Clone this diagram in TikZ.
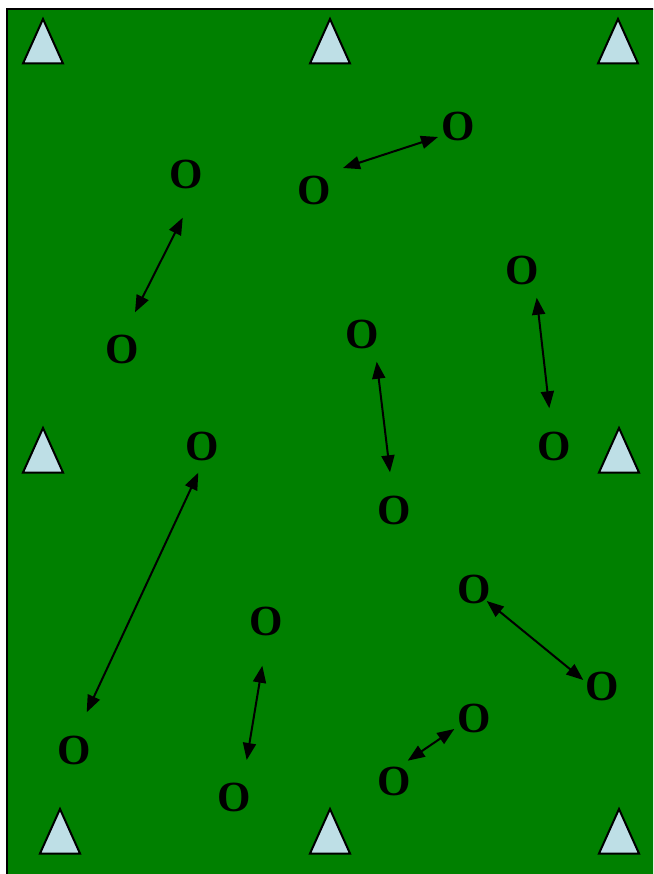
\documentclass[tikz,border=0pt]{standalone}
\usepackage{fontspec}
\setmainfont{Liberation Serif}
\usetikzlibrary{arrows.meta}
\definecolor{field}{RGB}{0,128,0}
\definecolor{cone}{RGB}{190,223,230}
\tikzset{
  player/.style={inner sep=0pt, outer sep=0pt, text=black, font=\bfseries\fontsize{43}{43}\selectfont},
  conebox/.style={draw=black, line width=2pt, fill=cone, line join=miter},
  pass/.style={draw=black, line width=2pt, {Triangle[length=17pt,width=13pt]}-{Triangle[length=17pt,width=13pt]}}
}
\begin{document}
\begin{tikzpicture}[x=1pt,y=-1pt]
\useasboundingbox (0,0) rectangle (653,874);
\clip (0,0) rectangle (653,874);
\fill[white] (0,0) rectangle (653,874);
\draw[fill=field, line width=2pt] (7,9) rectangle (670,890);
% cones
\foreach \n/\cx/\ty in {c1/43/19, c2/330/19, c3/618/19, c4/43/428, c5/619/428, c6/60/809, c7/330/809, c8/619/809}{
  \draw[conebox] (\cx,\ty) -- ++(20,44.5) -- ++(-40,0) -- cycle;
}
% players
\node[player] (o1) at (186.7,174) {O};
\node[player] (o2) at (314.5,190.5) {O};
\node[player] (o3) at (458.3,126) {O};
\node[player] (o4) at (522.5,270) {O};
\node[player] (o5) at (122.5,349) {O};
\node[player] (o6) at (362,334) {O};
\node[player] (o7) at (202,446) {O};
\node[player] (o8) at (554.5,446) {O};
\node[player] (o9) at (394.5,510) {O};
\node[player] (o10) at (474.5,589.7) {O};
\node[player] (o11) at (266.5,621.7) {O};
\node[player] (o12) at (602,686) {O};
\node[player] (o13) at (74,750) {O};
\node[player] (o14) at (474.5,718) {O};
\node[player] (o15) at (234,797.7) {O};
\node[player] (o16) at (394.5,781.5) {O};
% arrow ends
\coordinate (a1) at (182.7,217.7); \coordinate (a2) at (135,312.3);
\coordinate (b1) at (343,168); \coordinate (b2) at (438,137);
\coordinate (c1) at (536.7,297.7); \coordinate (c2) at (549.3,408.3);
\coordinate (d1) at (376.7,361.7); \coordinate (d2) at (390,472.3);
\coordinate (e1) at (198.3,472.7); \coordinate (e2) at (86.7,712.3);
\coordinate (f1) at (262.3,665.7); \coordinate (f2) at (246.7,760);
\coordinate (g1) at (486.7,601); \coordinate (g2) at (583.3,680);
\coordinate (h1) at (407.7,760.7); \coordinate (h2) at (454.3,729);
\foreach \p in {a,b,c,d,e,f,g,h}{
  \draw[pass] (\p1) -- (\p2);
}
\end{tikzpicture}
\end{document}
